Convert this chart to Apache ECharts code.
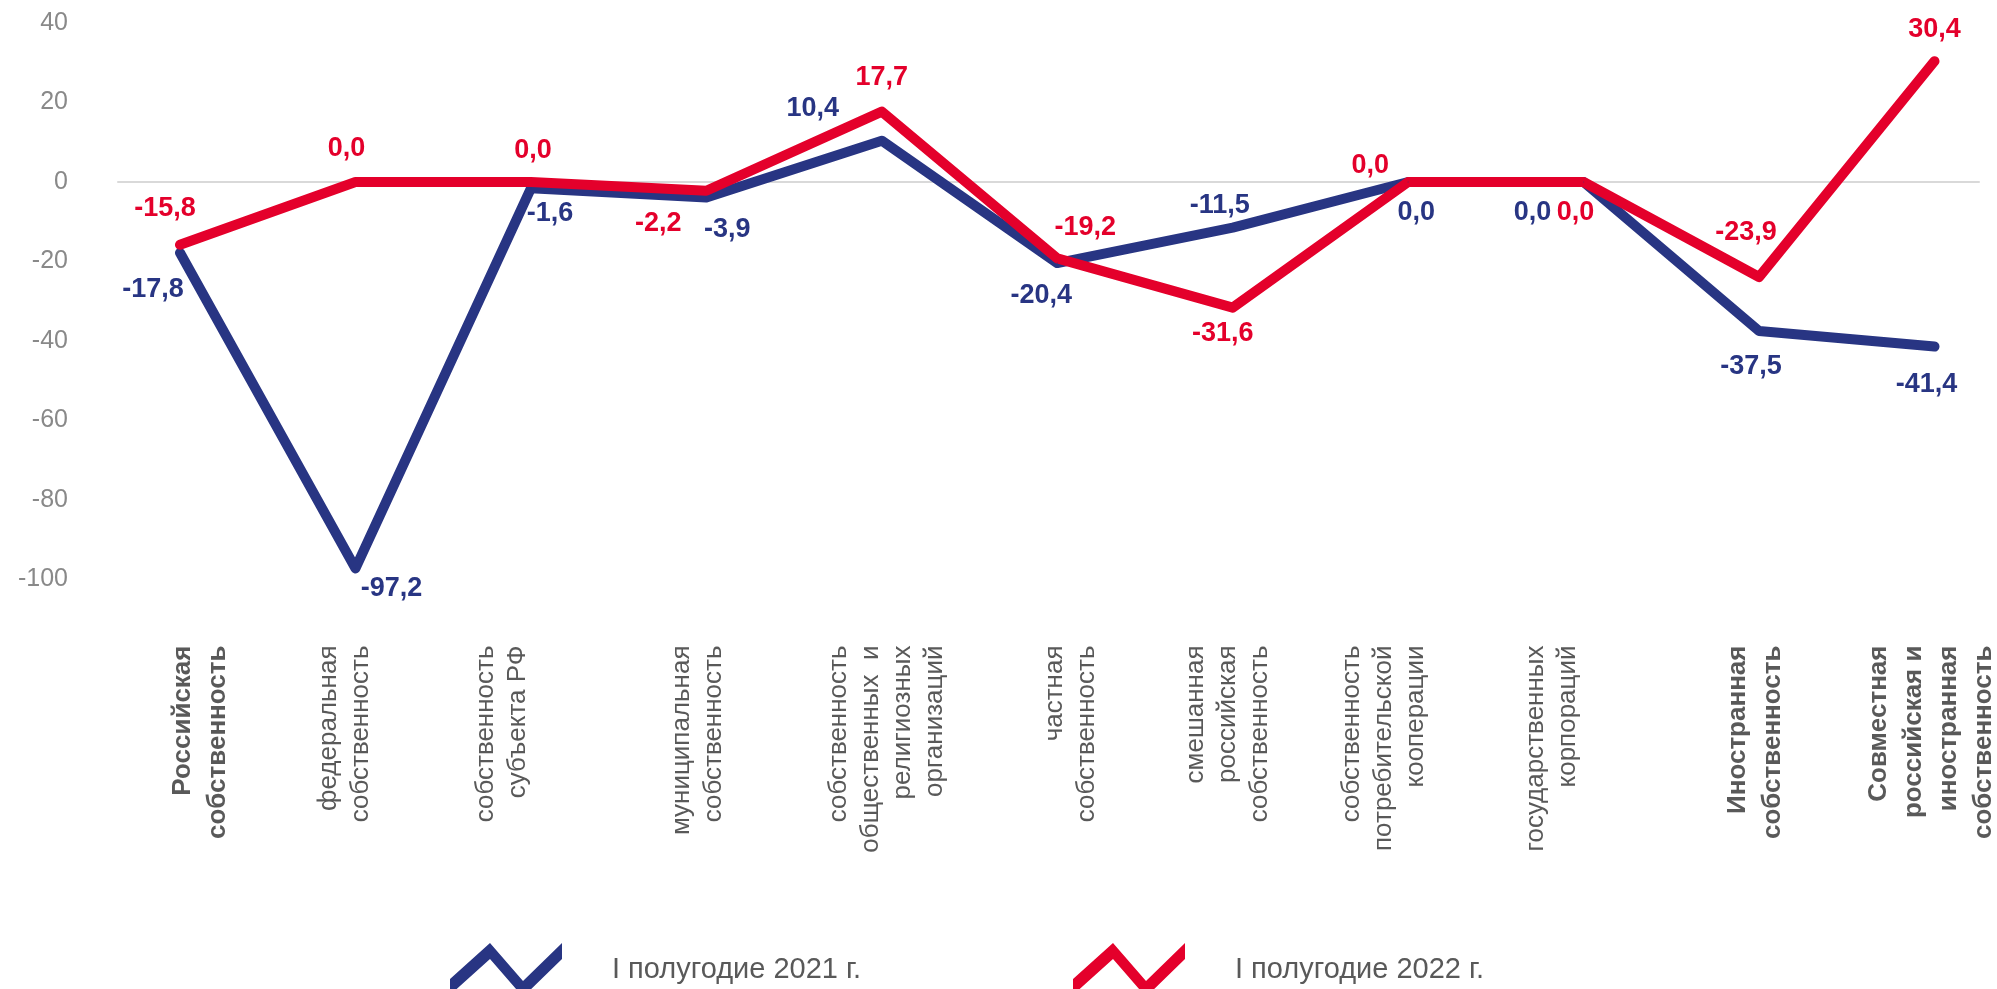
<!DOCTYPE html>
<html>
<head>
<meta charset="utf-8">
<title>chart</title>
<script src="https://cdn.jsdelivr.net/npm/echarts@6/dist/echarts.min.js"></script>
<style>
  html, body { margin:0; padding:0; background:#fff; }
  #chart { width:1997px; height:989px; }
</style>
</head>
<body>
<div id="chart"></div>
<script>
  // категории (подписи оси X)
  var categories = [
    'Российская\nсобственность',
    'федеральная\nсобственность',
    'собственность\nсубъекта РФ',
    'муниципальная\nсобственность',
    'собственность\nобщественных  и\nрелигиозных\nорганизаций',
    'частная\nсобственность',
    'смешанная\nроссийская\nсобственность',
    'собственность\nпотребительской\nкооперации',
    'государственных\nкорпораций',
    'Иностранная\nсобственность',
    'Совместная\nроссийская и\nиностранная\nсобственность'
  ];
  // жирные подписи
  var boldCategories = [categories[0], categories[9], categories[10]];

  var seriesNames = ['I полугодие 2021 г.', 'I полугодие 2022 г.'];
  var values2021 = [-17.8, -97.2, -1.6, -3.9, 10.4, -20.4, -11.5, 0.0, 0.0, -37.5, -41.4];
  var values2022 = [-15.8, 0.0, 0.0, -2.2, 17.7, -19.2, -31.6, 0.0, 0.0, -23.9, 30.4];

  var yTicks = [-100, -80, -60, -40, -20, 0, 20, 40];

  // сдвиг подписей значений относительно точки
  var labelShift2021 = [[-27,37],[36,20],[19,25],[21,32],[-69,-32],[-16,32],[-13,-22],[8,31],[-51,31],[-8,35],[-8,38]];
  var labelShift2022 = [[-15,-36],[-9,-33],[2,-31],[-48,33],[0,-34],[28,-31],[-10,26],[-38,-16],[-8,31],[-13,-44],[0,-32]];
  // сдвиг подписей категорий по горизонтали
  var categoryShift = [20, -11, -29, -9, 5, 14, -5, -24, -32, -4, -3];

  var blue = '#283583';
  var red = '#E4002B';
  var font = "'Liberation Sans', Arial, sans-serif";
  // значок легенды - зигзаг
  var zigzag = 'path://M0,32 L40,-4 L73,34 L112,-4 L112,12 L73,50 L40,12 L0,48 Z';

  function fmt(v){
    return v.toFixed(1).replace('.', ',');
  }

  function buildData(values, shifts){
    return values.map(function(v, i){
      return { value: v, label: { offset: shifts[i] } };
    });
  }

  // текст повёрнут на 90°, поэтому padding сверху двигает подпись вправо
  var categoryData = categories.map(function(c, i){
    var s = categoryShift[i];
    return {
      value: c,
      textStyle: { padding: s > 0 ? [2 * s, 0, 0, 0] : [0, 0, -2 * s, 0] }
    };
  });

  var myChart = echarts.init(document.getElementById('chart'));
  var option = {
    animation: false,
    grid: [
      // сетка для оси Y и нулевой линии
      { left: 118, right: 18, top: 23, bottom: 409.5 },
      // сетка для линий
      { left: 180, right: 57, top: 23, bottom: 409.5 }
    ],
    xAxis: [
      {
        gridIndex: 0,
        type: 'value',
        min: 0,
        max: 1,
        axisLabel: { show: false },
        axisTick: { show: false },
        splitLine: { show: false },
        axisLine: { show: true, onZero: true, lineStyle: { color: '#d9d9d9', width: 2 } }
      },
      {
        gridIndex: 1,
        type: 'category',
        data: categoryData,
        boundaryGap: false,
        axisLine: { show: false },
        axisTick: { show: false },
        splitLine: { show: false },
        axisLabel: {
          interval: 0,
          rotate: 90,
          margin: 66,
          formatter: function(value){
            return boldCategories.indexOf(value) >= 0 ? '{b|' + value + '}' : '{n|' + value + '}';
          },
          rich: {
            b: { fontFamily: font, fontSize: 26, fontWeight: 'bold', color: '#595959', lineHeight: 35 },
            n: { fontFamily: font, fontSize: 26, color: '#595959', lineHeight: 32 }
          }
        }
      }
    ],
    yAxis: [
      {
        gridIndex: 0,
        type: 'value',
        min: yTicks[0],
        max: yTicks[yTicks.length - 1],
        interval: 20,
        axisLine: { show: false },
        axisTick: { show: false },
        splitLine: { show: false },
        axisLabel: { margin: 50, fontFamily: font, fontSize: 25, color: '#898989' }
      },
      {
        gridIndex: 1,
        type: 'value',
        min: yTicks[0],
        max: yTicks[yTicks.length - 1],
        interval: 20,
        show: false,
        splitLine: { show: false }
      }
    ],
    legend: [
      {
        data: [seriesNames[0]],
        left: 450,
        top: 943,
        padding: 0,
        icon: zigzag,
        itemWidth: 112,
        itemHeight: 54,
        itemStyle: { borderWidth: 0 },
        textStyle: { fontFamily: font, fontSize: 29, color: '#595959', padding: [0, 0, 0, 45] }
      },
      {
        data: [seriesNames[1]],
        left: 1073,
        top: 943,
        padding: 0,
        icon: zigzag,
        itemWidth: 112,
        itemHeight: 54,
        itemStyle: { borderWidth: 0 },
        textStyle: { fontFamily: font, fontSize: 29, color: '#595959', padding: [0, 0, 0, 45] }
      }
    ],
    series: []
  };

  option.series.push({
    name: seriesNames[0],
    type: 'line',
    xAxisIndex: 1,
    yAxisIndex: 1,
    data: buildData(values2021, labelShift2021),
    symbol: 'circle',
    symbolSize: 1,
    itemStyle: { color: blue, borderWidth: 0 },
    lineStyle: { color: blue, width: 10, cap: 'round', join: 'round' },
    label: {
      show: true,
      position: 'inside',
      formatter: function(p){ return fmt(p.value); },
      fontFamily: font,
      fontSize: 27,
      fontWeight: 'bold',
      color: blue
    }
  });
  option.series.push({
    name: seriesNames[1],
    type: 'line',
    xAxisIndex: 1,
    yAxisIndex: 1,
    data: buildData(values2022, labelShift2022),
    symbol: 'circle',
    symbolSize: 1,
    itemStyle: { color: red, borderWidth: 0 },
    lineStyle: { color: red, width: 10, cap: 'round', join: 'round' },
    label: {
      show: true,
      position: 'inside',
      formatter: function(p){ return fmt(p.value); },
      fontFamily: font,
      fontSize: 27,
      fontWeight: 'bold',
      color: red
    }
  });

  myChart.setOption(option, true);
</script>
</body>
</html>
